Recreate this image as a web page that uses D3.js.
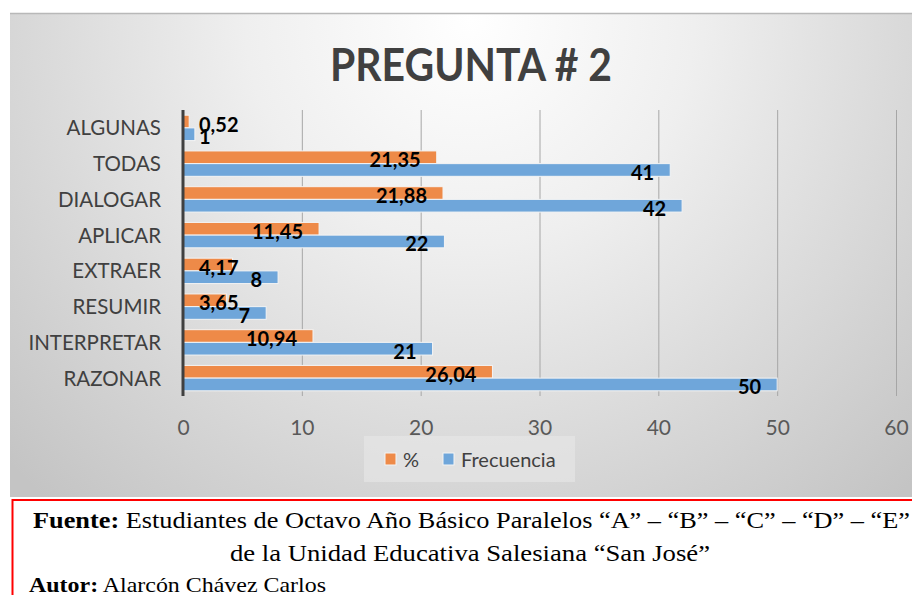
<!DOCTYPE html>
<meta charset="utf-8">
<style>
body { margin: 0; background: #fff; }
svg text { font-family: Lato, "Open Sans", sans-serif; }
.nota { font-family: "Liberation Serif", "Times New Roman", serif !important; fill: #000; }
</style>
<body>
<script src="https://d3js.org/d3.v7.min.js"></script>
<script>

// categories, top to bottom
var categorias = ["ALGUNAS", "TODAS", "DIALOGAR", "APLICAR", "EXTRAER", "RESUMIR", "INTERPRETAR", "RAZONAR"];
var porcentaje = [0.52, 21.35, 21.88, 11.45, 4.17, 3.65, 10.94, 26.04];
var frecuencia = [1, 41, 42, 22, 8, 7, 21, 50];
var etiquetasPct = ["0,52", "21,35", "21,88", "11,45", "4,17", "3,65", "10,94", "26,04"];
var xTicks = [0, 10, 20, 30, 40, 50, 60];
var series = ["%", "Frecuencia"];

var W = 912, H = 595;

var svg = d3.select("body").append("svg")
    .attr("width", W)
    .attr("height", H);

// background gradient like the excel chart area
var defs = svg.append("defs");
var grad = defs.append("radialGradient")
    .attr("id", "bg")
    .attr("gradientUnits", "userSpaceOnUse")
    .attr("cx", 470).attr("cy", 20).attr("r", 640);
grad.append("stop").attr("offset", "0%").attr("stop-color", "#ffffff");
grad.append("stop").attr("offset", "35%").attr("stop-color", "#efefef");
grad.append("stop").attr("offset", "100%").attr("stop-color", "#c4c4c4");

svg.append("rect")
    .attr("x", 10).attr("y", 13)
    .attr("width", W - 10).attr("height", 484)
    .attr("fill", "url(#bg)");
svg.append("line")
    .attr("x1", 10).attr("x2", W).attr("y1", 13.5).attr("y2", 13.5)
    .attr("stroke", "#b8b8b8").attr("stroke-width", 1.5);

// title
svg.append("text")
    .attr("x", 330).attr("y", 81)
    .attr("font-size", 45)
    .attr("font-weight", "bold")
    .attr("fill", "#404040")
    .attr("textLength", 282)
    .attr("lengthAdjust", "spacingAndGlyphs")
    .text("PREGUNTA # 2");

// scales
var x = d3.scaleLinear().domain([0, 60]).range([183, 896]);
var y = d3.scaleBand().domain(categorias).range([110, 396]).paddingInner(0.29).paddingOuter(0.145);
var sub = d3.scaleBand().domain(series).range([0, y.bandwidth()]);

// gridlines
svg.append("g")
    .selectAll("line")
    .data(xTicks.slice(1))
    .join("line")
    .attr("x1", function(d) { return x(d) + 0.5; })
    .attr("x2", function(d) { return x(d) + 0.5; })
    .attr("y1", 110).attr("y2", 396)
    .attr("stroke", "#a6a6a6").attr("stroke-width", 1);

// x axis labels
var xAxis = svg.append("g")
    .attr("transform", "translate(0,420)")
    .call(d3.axisBottom(x).tickValues(xTicks).tickSize(0).tickPadding(0));
xAxis.select(".domain").remove();
xAxis.selectAll("text")
    .attr("font-size", 21)
    .attr("fill", "#595959")
    .attr("font-family", "Lato, sans-serif");

// y axis labels
var yAxis = svg.append("g")
    .attr("transform", "translate(161,1)")
    .call(d3.axisLeft(y).tickSize(0).tickPadding(0));
yAxis.select(".domain").remove();
yAxis.selectAll("text")
    .attr("font-size", 20.5)
    .attr("fill", "#404040")
    .attr("font-family", "Lato, sans-serif");

var colores = {"%": "#ee8a48", "Frecuencia": "#6fa6da"};
var datos = [];
categorias.forEach(function(c, i) {
  datos.push({cat: c, serie: "%", v: porcentaje[i], lab: etiquetasPct[i]});
  datos.push({cat: c, serie: "Frecuencia", v: frecuencia[i], lab: String(frecuencia[i])});
});

// bars
svg.append("g")
    .selectAll("rect")
    .data(datos)
    .join("rect")
    .attr("x", x(0))
    .attr("y", function(d) { return y(d.cat) + sub(d.serie); })
    .attr("width", function(d) { return x(d.v) - x(0); })
    .attr("height", sub.bandwidth())
    .attr("fill", function(d) { return colores[d.serie]; })
    .attr("stroke", "#f4f4f4")
    .attr("stroke-width", 1);

// axis line
svg.append("line")
    .attr("x1", x(0)).attr("x2", x(0))
    .attr("y1", 110).attr("y2", 396)
    .attr("stroke", "#404040").attr("stroke-width", 3);

// data labels, inside end, pushed right when the bar is too short
svg.append("g")
    .selectAll("text")
    .data(datos)
    .join("text")
    .attr("font-size", 20)
    .attr("font-weight", "bold")
    .attr("fill", "#000")
    .attr("dominant-baseline", "central")
    .attr("y", function(d) { return y(d.cat) + sub(d.serie) + sub.bandwidth() / 2 + 2; })
    .text(function(d) { return d.lab; })
    .each(function(d) {
      var w = this.getComputedTextLength();
      var left = x(d.v) - 16 - w;
      if (left < 199) left = 199;
      d3.select(this).attr("x", left);
    });

// legend
svg.append("rect")
    .attr("x", 364).attr("y", 436).attr("width", 211).attr("height", 46)
    .attr("fill", "#e8e8e8").attr("opacity", 0.6);
var legX = [385, 443];
var leg = svg.append("g")
    .selectAll("g")
    .data(series)
    .join("g")
    .attr("transform", function(d, i) { return "translate(" + legX[i] + ",453)"; });
leg.append("rect")
    .attr("width", 11).attr("height", 12)
    .attr("fill", function(d) { return colores[d]; })
    .attr("stroke", "#f4f4f4");
leg.append("text")
    .attr("x", 18).attr("y", 6)
    .attr("dominant-baseline", "central")
    .attr("font-size", 20)
    .attr("fill", "#404040")
    .text(function(d) { return d; });

// source box
svg.append("path")
    .attr("d", "M12.5,595 V500 H912")
    .attr("fill", "none")
    .attr("stroke", "#ff0000").attr("stroke-width", 2);

var l1 = svg.append("text").attr("class", "nota")
    .attr("x", 33).attr("y", 528)
    .attr("font-size", 24)
    .attr("textLength", 877)
    .attr("lengthAdjust", "spacingAndGlyphs");
l1.append("tspan").attr("font-weight", "bold").text("Fuente:");
l1.append("tspan").text(" Estudiantes de Octavo Año Básico Paralelos “A” – “B” – “C” – “D” – “E”");

svg.append("text").attr("class", "nota")
    .attr("x", 230).attr("y", 561)
    .attr("font-size", 24)
    .attr("textLength", 480)
    .attr("lengthAdjust", "spacingAndGlyphs")
    .text("de la Unidad Educativa Salesiana “San José”");

var l3 = svg.append("text").attr("class", "nota")
    .attr("x", 29).attr("y", 592)
    .attr("font-size", 22)
    .attr("textLength", 297)
    .attr("lengthAdjust", "spacingAndGlyphs");
l3.append("tspan").attr("font-weight", "bold").text("Autor:");
l3.append("tspan").text(" Alarcón Chávez Carlos");

</script>
</body>
